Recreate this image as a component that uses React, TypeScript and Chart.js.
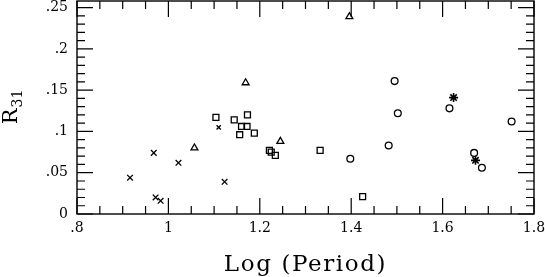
import React, { useEffect, useRef } from "react";
import { Chart, registerables } from "chart.js";

Chart.register(...registerables);

// ---- data ----
const squareX = [1.104, 1.144, 1.173, 1.160, 1.172, 1.156, 1.188, 1.221, 1.225, 1.234, 1.332, 1.425];
const squareY = [0.117, 0.114, 0.120, 0.106, 0.106, 0.096, 0.098, 0.077, 0.075, 0.071, 0.077, 0.021];

const crossX = [0.916, 0.968, 0.972, 0.983, 1.022, 1.110, 1.123];
const crossY = [0.044, 0.074, 0.020, 0.016, 0.062, 0.105, 0.039];

const triangleX = [1.057, 1.169, 1.245, 1.396];
const triangleY = [0.080, 0.159, 0.088, 0.239];

const circleX = [1.398, 1.482, 1.495, 1.502, 1.615, 1.669, 1.686, 1.751];
const circleY = [0.067, 0.083, 0.161, 0.122, 0.128, 0.074, 0.056, 0.112];

const starX = [1.624, 1.672];
const starY = [0.141, 0.065];

const xTickValues = [0.8, 1.0, 1.2, 1.4, 1.6, 1.8];
const xTickLabels = [".8", "1", "1.2", "1.4", "1.6", "1.8"];
const yTickValues = [0, 0.05, 0.1, 0.15, 0.2, 0.25];
const yTickLabels = ["0", ".05", ".1", ".15", ".2", ".25"];
const xMinorStep = 0.05;
const yMinorStep = 0.01;

const xTitle = "Log (Period)";
const yTitleMain = "R";
const yTitleSub = "31";

const FONT = "'DejaVu Serif', 'Liberation Serif', serif";

function pts(xs: number[], ys: number[]) {
  return xs.map((x, i) => ({ x, y: ys[i] }));
}

const framePlugin = {
  id: "frameTicks",
  afterDraw(chart: any) {
    const { ctx, chartArea } = chart;
    const xs = chart.scales.x;
    const ys = chart.scales.y;
    const { left, right, top, bottom } = chartArea;
    ctx.save();
    ctx.strokeStyle = "#000";
    ctx.lineWidth = 1.4;
    ctx.strokeRect(left, top, right - left, bottom - top);
    ctx.lineWidth = 1.2;
    const minorLen = 8;
    const majorLen = 16;
    ctx.beginPath();
    const nx = Math.round((xs.max - xs.min) / xMinorStep);
    for (let i = 0; i <= nx; i++) {
      const v = xs.min + i * xMinorStep;
      const isMajor = xTickValues.some((t) => Math.abs(t - v) < 1e-6);
      const len = isMajor ? majorLen : minorLen;
      const px = xs.getPixelForValue(v);
      ctx.moveTo(px, bottom);
      ctx.lineTo(px, bottom - len);
      ctx.moveTo(px, top);
      ctx.lineTo(px, top + len);
    }
    const ny = Math.floor((ys.max - ys.min) / yMinorStep + 1e-6);
    for (let i = 0; i <= ny; i++) {
      const v = ys.min + i * yMinorStep;
      const isMajor = yTickValues.some((t) => Math.abs(t - v) < 1e-6);
      const len = isMajor ? majorLen : minorLen;
      const py = ys.getPixelForValue(v);
      ctx.moveTo(left, py);
      ctx.lineTo(left + len, py);
      ctx.moveTo(right, py);
      ctx.lineTo(right - len, py);
    }
    ctx.stroke();

    // axis titles
    ctx.fillStyle = "#000";
    ctx.font = `23px ${FONT}`;
    ctx.textAlign = "center";
    ctx.textBaseline = "alphabetic";
    (ctx as any).letterSpacing = "1.6px";
    ctx.fillText(xTitle, (left + right) / 2, 271);
    (ctx as any).letterSpacing = "0px";

    ctx.translate(17, (top + bottom) / 2);
    ctx.rotate(-Math.PI / 2);
    ctx.font = `21px ${FONT}`;
    const wR = ctx.measureText(yTitleMain).width;
    ctx.font = `14px ${FONT}`;
    const wS = ctx.measureText(yTitleSub).width;
    const total = wR + wS;
    ctx.textAlign = "left";
    ctx.font = `21px ${FONT}`;
    ctx.fillText(yTitleMain, -total / 2, 0);
    ctx.font = `14px ${FONT}`;
    ctx.fillText(yTitleSub, -total / 2 + wR + 1, 5);
    ctx.restore();
  },
};

export default function App() {
  const ref = useRef<HTMLCanvasElement | null>(null);
  useEffect(() => {
    if (!ref.current) return;
    const common = {
      showLine: false,
      borderColor: "#000",
      backgroundColor: "rgba(0,0,0,0)",
      borderWidth: 1.3,
    };
    const chart = new Chart(ref.current, {
      type: "scatter",
      data: {
        datasets: [
          { ...common, label: "sq", data: pts(squareX, squareY), pointStyle: "rect", pointRadius: 4.2 },
          {
            ...common,
            label: "x",
            data: pts(crossX, crossY),
            pointStyle: "crossRot",
            pointRadius: crossX.map((_, i) => (i === 5 ? 3 : 4)),
          },
          { ...common, label: "tri", data: pts(triangleX, triangleY), pointStyle: "triangle", pointRadius: 4 },
          { ...common, label: "circ", data: pts(circleX, circleY), pointStyle: "circle", pointRadius: 3.4 },
          { ...common, label: "star", data: pts(starX, starY), pointStyle: "star", pointRadius: 4.5, borderWidth: 1.6 },
        ],
      } as any,
      options: {
        animation: false,
        responsive: false,
        events: [],
        layout: { autoPadding: false, padding: { top: 1, right: 11, left: 0, bottom: 0 } },
        plugins: { legend: { display: false }, tooltip: { enabled: false } },
        scales: {
          x: {
            type: "linear",
            min: 0.8,
            max: 1.8,
            grid: { display: false, drawTicks: false },
            border: { display: false },
            afterBuildTicks: (s: any) => {
              s.ticks = xTickValues.map((v) => ({ value: v }));
            },
            afterFit: (s: any) => {
              s.height = 63;
              s.paddingLeft = 0;
              s.paddingRight = 0;
            },
            ticks: {
              autoSkip: false,
              maxRotation: 0,
              padding: 6,
              color: "#000",
              font: { family: FONT, size: 14 },
              callback: (v: any) => {
                const i = xTickValues.findIndex((t) => Math.abs(t - v) < 1e-6);
                return i >= 0 ? xTickLabels[i] : "";
              },
            },
          },
          y: {
            type: "linear",
            min: 0,
            max: 0.258,
            grid: { display: false, drawTicks: false },
            border: { display: false },
            afterBuildTicks: (s: any) => {
              s.ticks = yTickValues.map((v) => ({ value: v }));
            },
            afterFit: (s: any) => {
              s.width = 77;
              s.paddingTop = 0;
              s.paddingBottom = 0;
            },
            ticks: {
              autoSkip: false,
              padding: 9,
              color: "#000",
              font: { family: FONT, size: 14 },
              callback: (v: any) => {
                const i = yTickValues.findIndex((t) => Math.abs(t - v) < 1e-6);
                return i >= 0 ? yTickLabels[i] : "";
              },
            },
          },
        },
      } as any,
      plugins: [framePlugin],
    });
    return () => chart.destroy();
  }, []);
  return (
    <div style={{ position: "fixed", left: 0, top: 0, width: 545, height: 277, background: "#fff" }}>
      <canvas ref={ref} width={545} height={277} style={{ display: "block" }} />
    </div>
  );
}
